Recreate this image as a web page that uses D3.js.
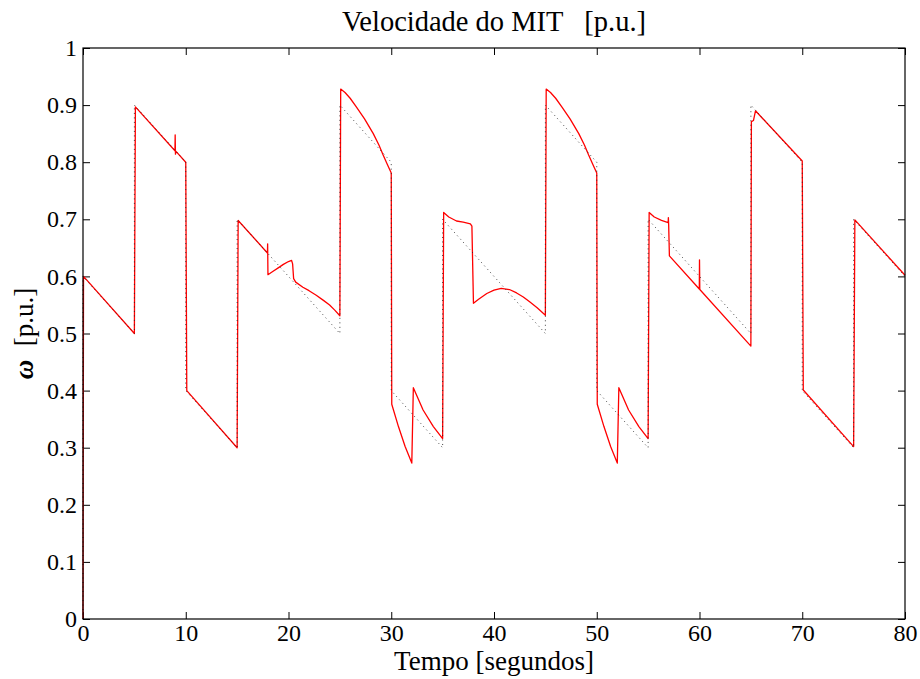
<!DOCTYPE html>
<html>
<head>
<meta charset="utf-8">
<script src="https://cdn.jsdelivr.net/npm/d3@7"></script>
<style>
  html, body { margin: 0; padding: 0; background: #fff; }
  svg { display: block; }
</style>
</head>
<body>
<svg id="chart" width="920" height="679"></svg>
<script>
// Speed reference (commanded ramps), time in seconds, speed in p.u.
const refTime  = [0, 0, 5, 5, 10, 10, 15, 15, 25, 25, 30, 30, 35, 35, 45, 45, 50, 50, 55, 55, 65, 65, 70, 70, 75, 75, 80];
const refSpeed = [0, 0.6, 0.5, 0.9, 0.8, 0.4, 0.3, 0.7, 0.5, 0.9, 0.8, 0.4, 0.3, 0.7, 0.5, 0.9, 0.8, 0.4, 0.3, 0.7, 0.5, 0.9, 0.8, 0.4, 0.3, 0.7, 0.6];

// Measured induction motor speed
const motTime = [
  0, 0.05, 5.0, 5.1, 8.95, 8.97, 9.0, 9.05, 10.0, 10.1, 15.0, 15.1,
  17.95, 17.97, 18.0, 18.5, 19.0, 19.5, 20.0, 20.3, 20.4, 20.5, 20.7, 21.4, 22.0, 22.7, 23.4, 24.0, 24.5, 25.0,
  25.08, 25.5, 26.0, 26.6, 27.4, 28.25, 28.8, 29.2, 29.6, 30.0,
  30.05, 30.7, 31.35, 32.0, 32.15, 33.1, 34.1, 35.0,
  35.1, 35.6, 36.35, 37.0, 37.7, 37.85, 38.0, 38.5, 39.3, 40.0, 40.7, 41.5, 42.2, 42.85, 43.5, 44.2, 45.0,
  45.08, 45.5, 46.0, 46.6, 47.4, 48.25, 48.8, 49.2, 49.6, 50.0,
  50.05, 50.7, 51.35, 52.0, 52.15, 53.1, 54.1, 55.0,
  55.1, 55.6, 56.3, 56.95, 56.97, 57.0, 57.07, 59.98, 60.0, 60.03, 65.0,
  65.05, 65.25, 65.45, 70.0, 70.1, 75.0, 75.12, 80.0
];
const motSpeed = [
  0, 0.6, 0.5, 0.897, 0.82, 0.848, 0.814, 0.819, 0.8, 0.4, 0.3, 0.698,
  0.641, 0.657, 0.603, 0.609, 0.615, 0.621, 0.626, 0.628, 0.622, 0.596, 0.59, 0.581, 0.575, 0.567, 0.558, 0.55, 0.541, 0.531,
  0.928, 0.922, 0.912, 0.897, 0.876, 0.85, 0.83, 0.813, 0.797, 0.781,
  0.376, 0.337, 0.302, 0.273, 0.405, 0.366, 0.337, 0.316,
  0.712, 0.704, 0.697, 0.695, 0.692, 0.688, 0.553, 0.56, 0.57, 0.576, 0.579, 0.577, 0.571, 0.564, 0.555, 0.545, 0.532,
  0.928, 0.922, 0.912, 0.897, 0.876, 0.85, 0.83, 0.813, 0.797, 0.781,
  0.376, 0.337, 0.302, 0.273, 0.405, 0.366, 0.337, 0.316,
  0.712, 0.704, 0.698, 0.694, 0.703, 0.69, 0.636, 0.578, 0.629, 0.577, 0.478,
  0.871, 0.873, 0.89, 0.802, 0.401, 0.302, 0.699, 0.602
];

const xTicks = [0, 10, 20, 30, 40, 50, 60, 70, 80];
const yTicks = [0, 0.1, 0.2, 0.3, 0.4, 0.5, 0.6, 0.7, 0.8, 0.9, 1];

const titleText = "Velocidade do MIT   [p.u.]";
const xLabelText = "Tempo [segundos]";

const serif = "'Liberation Serif', 'Times New Roman', Times, serif";

const margin = { left: 83, top: 48, right: 15, bottom: 60 };
const W = 920, H = 679;
const x0 = margin.left, x1 = W - margin.right;
const y0 = H - margin.bottom, y1 = margin.top;

const svg = d3.select("#chart");

const x = d3.scaleLinear().domain([0, 80]).range([x0, x1]);
const y = d3.scaleLinear().domain([0, 1]).range([y0, y1]);

const fmt = d => (d === 0 || d === 1) ? String(d) : d3.format(".1f")(d);
const tickLen = 7;

const styleTicks = g => g.selectAll("text")
  .style("font-family", serif).style("font-size", "24px").style("fill", "#000");

// axes: labelled bottom/left, bare ticks on top/right, all pointing inward
svg.append("g")
  .attr("transform", `translate(0,${y0})`)
  .call(d3.axisBottom(x).tickValues(xTicks).tickSizeInner(-tickLen).tickSizeOuter(0).tickPadding(5).tickFormat(d3.format("d")))
  .call(g => g.select(".domain").remove())
  .call(styleTicks);

svg.append("g")
  .attr("transform", `translate(${x0},0)`)
  .call(d3.axisLeft(y).tickValues(yTicks).tickSizeInner(-tickLen).tickSizeOuter(0).tickPadding(6).tickFormat(fmt))
  .call(g => g.select(".domain").remove())
  .call(styleTicks);

svg.append("g")
  .attr("transform", `translate(0,${y1})`)
  .call(d3.axisTop(x).tickValues(xTicks).tickSizeInner(-tickLen).tickSizeOuter(0).tickFormat(""))
  .call(g => g.select(".domain").remove());

svg.append("g")
  .attr("transform", `translate(${x1},0)`)
  .call(d3.axisRight(y).tickValues(yTicks).tickSizeInner(-tickLen).tickSizeOuter(0).tickFormat(""))
  .call(g => g.select(".domain").remove());

// curves
const motPts = motTime.map((t, i) => [t, motSpeed[i]]);
const refPts = refTime.map((t, i) => [t, refSpeed[i]]);
const line = d3.line().x(d => x(d[0])).y(d => y(d[1]));

svg.append("path")
  .datum(motPts)
  .attr("d", line)
  .attr("fill", "none")
  .attr("stroke", "#ff0000")
  .attr("stroke-width", 1.3)
  .attr("stroke-linejoin", "round");

svg.append("path")
  .datum(refPts)
  .attr("d", line)
  .attr("fill", "none")
  .attr("stroke", "#222")
  .attr("stroke-width", 1)
  .attr("stroke-dasharray", "1,3.5")
  .attr("opacity", 0.85);

// frame
svg.append("rect")
  .attr("x", x0).attr("y", y1)
  .attr("width", x1 - x0).attr("height", y0 - y1)
  .attr("fill", "none").attr("stroke", "#000").attr("stroke-width", 1.2);

// title and labels
svg.append("text")
  .attr("x", (x0 + x1) / 2).attr("y", 31)
  .attr("text-anchor", "middle")
  .style("font-family", serif).style("font-size", "28.5px").style("white-space", "pre")
  .text(titleText);

svg.append("text")
  .attr("x", (x0 + x1) / 2).attr("y", 670)
  .attr("text-anchor", "middle")
  .style("font-family", serif).style("font-size", "27px")
  .text(xLabelText);

const yl = svg.append("text")
  .attr("transform", `translate(33,${(y0 + y1) / 2}) rotate(-90)`)
  .attr("text-anchor", "middle")
  .style("font-family", serif).style("font-size", "27px").style("white-space", "pre");
yl.append("tspan").style("font-style", "italic").style("font-weight", "bold").text("ω");
yl.append("tspan").text("  [p.u.]");
</script>
</body>
</html>
